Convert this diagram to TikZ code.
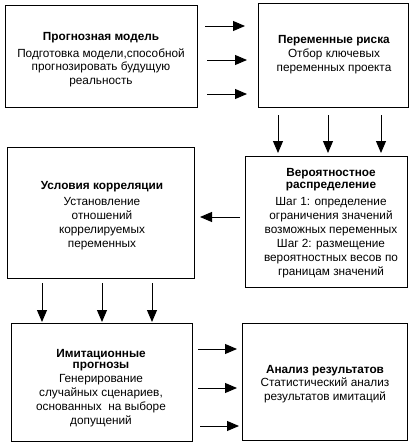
\documentclass[tikz,border=0pt]{standalone}
\usepackage{fontspec}
\setmainfont{Liberation Sans}
\usetikzlibrary{arrows.meta}
\tikzset{
  box/.style={draw, line width=1pt, inner sep=0pt},
  lbl/.style={align=center, inner sep=0pt, font=\fontsize{11.8}{14}\selectfont},
  arr/.style={line width=0.9pt, -{Triangle[length=12pt,width=10pt]}}
}
\begin{document}
\begin{tikzpicture}[x=1pt,y=-1pt]
\useasboundingbox (0,0) rectangle (413,448);
% boxes
\node[box, minimum width=192, minimum height=102] (b1) at (101,56) {};
\node[box, minimum width=150, minimum height=104] (b2) at (333.5,55.5) {};
\node[box, minimum width=187, minimum height=131] (b3) at (100.5,213) {};
\node[box, minimum width=162, minimum height=131] (b4) at (326,221.5) {};
\node[box, minimum width=181, minimum height=118] (b5) at (102,382.5) {};
\node[box, minimum width=165, minimum height=117] (b6) at (325,382) {};
% texts
\node[lbl] (t1) at (101,59.5) {\textbf{Прогнозная модель}\\[3pt]Подготовка модели,способной\\[-1pt]прогнозировать будущую\\реальность};
\node[lbl] (t2) at (334,55) {\textbf{Переменные риска}\\Отбор ключевых\\переменных проекта};
\node[lbl] (t3) at (102,216) {\textbf{Условия корреляции}\\[2pt]Установление\\отношений\\коррелируемых\\переменных};
\node[lbl] (t4) at (331,223.5) {\textbf{Вероятностное}\\[-2pt]\textbf{распределение}\\[3pt]Шаг 1: определение\\ограничения значений\\возможных переменных\\Шаг 2: размещение\\вероятностных весов по\\границам значений};
\node[lbl] (t5) at (101,388) {\textbf{Имитационные}\\[-3pt]\textbf{прогнозы}\\Генерирование\\случайных сценариев,\\основанных~ на выборе\\допущений};
\node[lbl] (t6) at (325,384) {\textbf{Анализ результатов}\\[-1pt]Статистический анализ\\результатов имитаций};
% arrow end points
\coordinate (r1s) at (205,26);  \coordinate (r1e) at (245,26);
\coordinate (r2s) at (207,60);  \coordinate (r2e) at (247,60);
\coordinate (r3s) at (207,94);  \coordinate (r3e) at (247,94);
\coordinate (d1s) at (278,115); \coordinate (d1e) at (278,153);
\coordinate (d2s) at (328,115); \coordinate (d2e) at (328,153);
\coordinate (d3s) at (381,115); \coordinate (d3e) at (381,153);
\coordinate (ls) at (240,217);  \coordinate (le) at (200,217);
\coordinate (e1s) at (42,283);  \coordinate (e1e) at (42,322);
\coordinate (e2s) at (102,283); \coordinate (e2e) at (102,322);
\coordinate (e3s) at (152,283); \coordinate (e3e) at (152,322);
\coordinate (s1s) at (198,349); \coordinate (s1e) at (237,349);
\coordinate (s2s) at (198,388); \coordinate (s2e) at (237,388);
\coordinate (s3s) at (200,426); \coordinate (s3e) at (239,426);
% arrows
\foreach \a in {r1,r2,r3,d1,d2,d3,e1,e2,e3,s1,s2,s3}
  \draw[arr] (\a s) -- (\a e);
\draw[arr] (ls) -- (le);
\end{tikzpicture}
\end{document}
